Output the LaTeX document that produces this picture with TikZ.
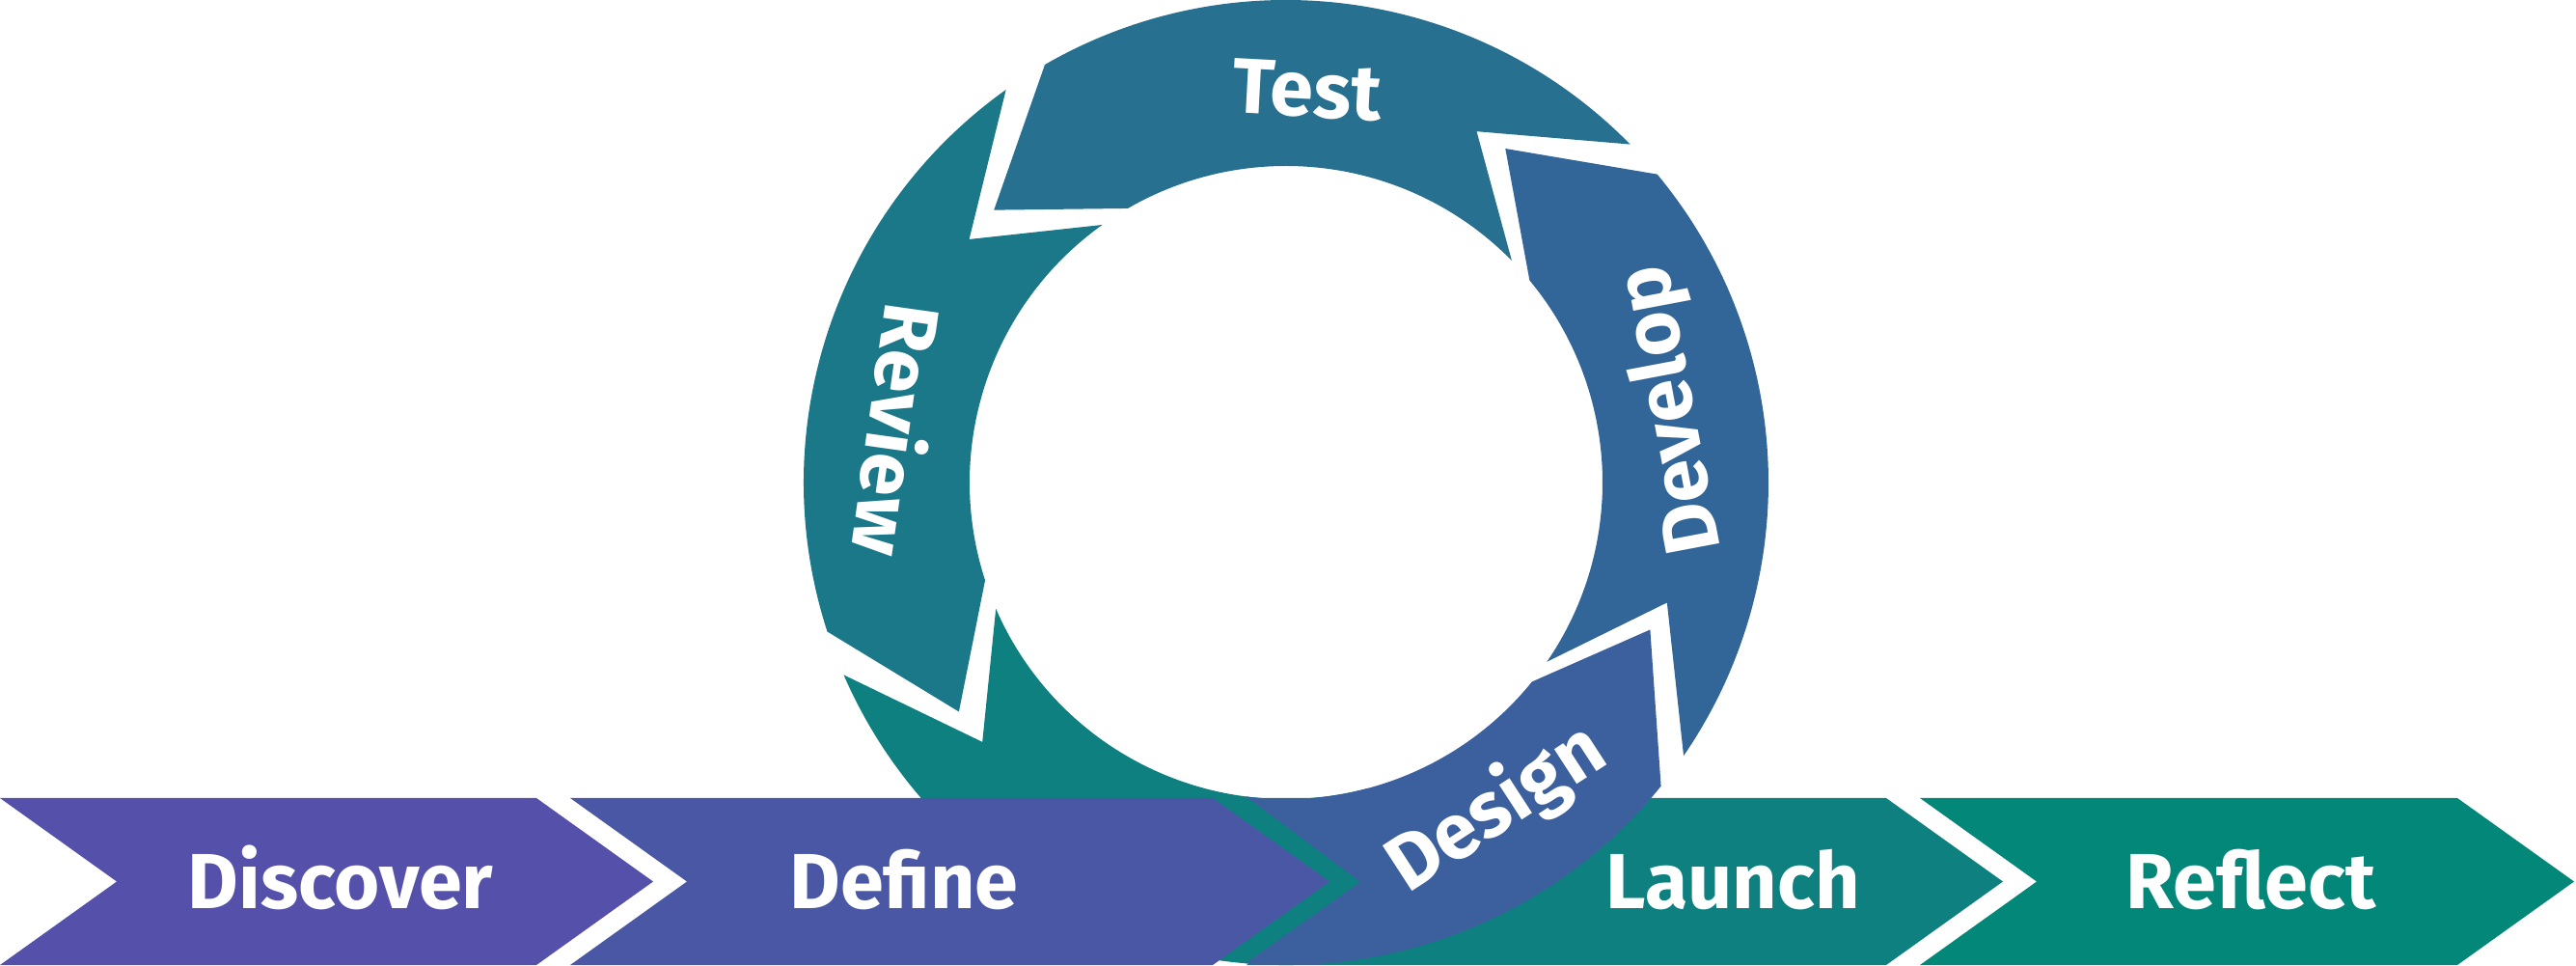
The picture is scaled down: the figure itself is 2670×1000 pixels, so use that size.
\documentclass[tikz,border=0pt]{standalone}
\usepackage{fontspec}
\setmainfont{Fira Sans}
\definecolor{discoverc}{HTML}{5551AB}
\definecolor{definec}{HTML}{4A57A5}
\definecolor{launchc}{HTML}{0F8080}
\definecolor{reflectc}{HTML}{038778}
\definecolor{testc}{HTML}{27708F}
\definecolor{developc}{HTML}{336698}
\definecolor{designc}{HTML}{3C5F9E}
\definecolor{reviewc}{HTML}{1B7888}
\definecolor{loopteal}{HTML}{0F8080}
% one chevron of the bottom row: colour, left edge, right edge
\newcommand{\chev}[3]{\fill[#1] (#2,173) -- (#3,173) -- ({#3+121},86.5) -- (#3,0) -- (#2,0) -- ({#2+121},86.5) -- cycle;}
% one arrow of the loop: colour, tail angle, head base angle, tip angle
\newcommand{\ringseg}[4]{\fill[#1] (#2:500) arc[start angle=#2, end angle=#3, radius=500] -- (#4:414) -- (#3:328) arc[start angle=#3, end angle=#2, radius=328] -- ({#2+17}:414) -- cycle;}

\begin{document}
\begin{tikzpicture}[x=0.01cm,y=0.01cm,
  lbl/.style={text=white,font=\fontsize{23}{26}\selectfont\bfseries,inner sep=0pt,text depth=0pt}]
  \useasboundingbox (0,0) rectangle (2670,1000);
  % chevrons lying under the loop
  \chev{launchc}{1292}{1955}
  \chev{reflectc}{1990}{2547}
  % the loop
  \begin{scope}[shift={(1333,500)}]
    \ringseg{loopteal}{203.5}{285}{285}
    \ringseg{reviewc}{125.5}{198}{215}
    \ringseg{testc}{44.5}{120}{137}
    \ringseg{developc}{-34.5}{39.7}{56.7}
    \fill[designc] (265.2:500) arc[start angle=265.2, end angle=321, radius=500]
      -- (338:407) -- (321:328) arc[start angle=321, end angle=262.7, radius=328]
      -- (77,-414) -- cycle;
    \node[lbl,rotate=-3] (test) at (22,407) {Test};
    \node[lbl,rotate=262] (review) at (172.3:404) {Review};
    \node[lbl,rotate=100.7] (develop) at (10.7:399) {Develop};
    \node[lbl,rotate=33] (design) at (-57.2:394) {Design};
  \end{scope}
  % chevrons lying over the loop
  \chev{discoverc}{0}{556}
  \chev{definec}{591}{1257}
  \node[lbl,anchor=base] (discover) at (353,58) {Discover};
  \node[lbl,anchor=base] (define) at (937,58) {Define};
  \node[lbl,anchor=base] (launch) at (1796,58) {Launch};
  \node[lbl,anchor=base] (reflect) at (2333,58) {Reflect};
\end{tikzpicture}
\end{document}
